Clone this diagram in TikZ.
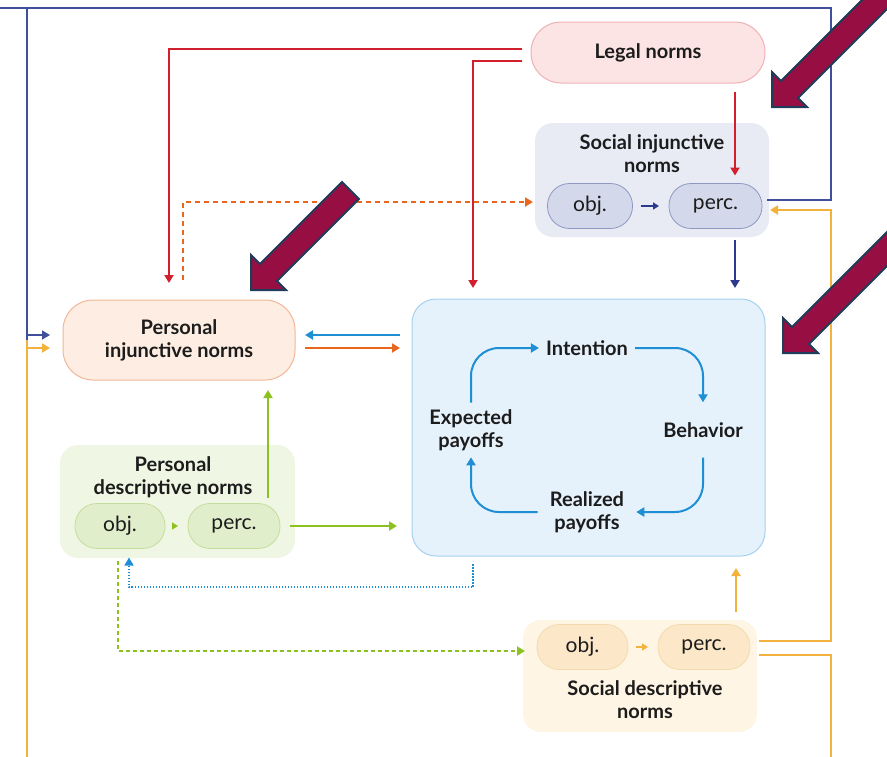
\documentclass[tikz,border=0pt]{standalone}
\usepackage{fontspec}
\setmainfont{Lato}
\usetikzlibrary{arrows.meta}

\definecolor{ink}{HTML}{1C1C1C}
\definecolor{legalfill}{HTML}{FCE3E4}
\definecolor{legaldraw}{HTML}{EFB2B6}
\definecolor{sinfill}{HTML}{E8EBF4}
\definecolor{sinpill}{HTML}{D3D9EB}
\definecolor{sinpilldraw}{HTML}{8E98C2}
\definecolor{pinfill}{HTML}{FDEDE3}
\definecolor{pindraw}{HTML}{F2B795}
\definecolor{pdnfill}{HTML}{F0F6E4}
\definecolor{pdnpill}{HTML}{E1EECB}
\definecolor{pdnpilldraw}{HTML}{C5DD9C}
\definecolor{cenfill}{HTML}{E5F1FB}
\definecolor{cendraw}{HTML}{A6D1EF}
\definecolor{sdnfill}{HTML}{FEF5E4}
\definecolor{sdnpill}{HTML}{FCE8C8}
\definecolor{sdnpilldraw}{HTML}{F4DBAE}
\definecolor{lawred}{HTML}{D11F2E}
\definecolor{navy}{HTML}{2B3A8C}
\definecolor{outerblue}{HTML}{3F4F9C}
\definecolor{flame}{HTML}{E8671C}
\definecolor{sky}{HTML}{1E8FD5}
\definecolor{leaf}{HTML}{8CC220}
\definecolor{amber}{HTML}{F3B23C}
\definecolor{pointerfill}{HTML}{970E43}
\definecolor{pointerdraw}{HTML}{1F3C5A}

\begin{document}
\begin{tikzpicture}[x=1pt, y=-1pt,
  head/.style={font=\fontsize{20}{23}\selectfont\bfseries, text=ink, align=center, inner sep=0pt},
  panel/.style={inner sep=0pt, outer sep=0pt},
  pill/.style={rounded corners=22pt, minimum height=45pt, inner sep=0pt, outer sep=0pt,
    font=\fontsize{21}{24}\selectfont, text=ink, line width=0.8pt},
  tip/.style={-{Triangle[length=8pt,width=9pt]}},
  conn/.style={line width=2pt, tip},
  tiny/.style={line width=2pt, -{Triangle[length=6pt,width=7pt]}, shorten <=8pt, shorten >=10pt},
  cyc/.style={conn, draw=sky, rounded corners=28pt},
  cyclabel/.style={head, inner xsep=7pt, inner ysep=6.5pt},
  pics/pointer/.style={code={
    \filldraw[fill=pointerfill, draw=pointerdraw, line width=2pt, line join=miter]
      (0,0) -- (0,-35) -- (9,-26) -- ++(#1,-#1) -- ++(17,17) -- (26,-9) -- (35,0) -- cycle;
  }}
]
\useasboundingbox (0,0) rectangle (887,756);
\clip (0,0) rectangle (887,756);

% ---- boxes ----
\node[panel, head, fill=legalfill, draw=legaldraw, line width=1pt, rounded corners=30pt,
      minimum width=234pt, minimum height=61pt] (legal) at (648,52.5) {Legal norms};

\node[panel, fill=sinfill, rounded corners=18pt, minimum width=234pt, minimum height=114pt] (sin) at (652,180) {};
\node[head] (sintitle) at (652,154) {Social injunctive\\norms};
\node[pill, fill=sinpill, draw=sinpilldraw, minimum width=85pt] (sinobj) at (590,206) {obj.};
\node[pill, fill=sinpill, draw=sinpilldraw, minimum width=93pt] (sinperc) at (715.5,206) {perc.};

\node[panel, head, fill=pinfill, draw=pindraw, line width=1pt, rounded corners=30pt,
      minimum width=232pt, minimum height=80pt] (pin) at (179,340) {Personal\\injunctive norms};

\node[panel, fill=pdnfill, rounded corners=18pt, minimum width=235pt, minimum height=113pt] (pdn) at (177.5,501.5) {};
\node[head] (pdntitle) at (173,477) {Personal\\descriptive norms};
\node[pill, fill=pdnpill, draw=pdnpilldraw, minimum width=90pt] (pdnobj) at (120,526) {obj.};
\node[pill, fill=pdnpill, draw=pdnpilldraw, minimum width=92pt] (pdnperc) at (234,526) {perc.};

\node[panel, fill=cenfill, draw=cendraw, line width=1pt, rounded corners=24pt,
      minimum width=353pt, minimum height=257pt] (central) at (588.5,427.5) {};

\node[panel, fill=sdnfill, rounded corners=18pt, minimum width=234pt, minimum height=112pt] (sdn) at (640,676) {};
\node[pill, fill=sdnpill, draw=sdnpilldraw, minimum width=91pt] (sdnobj) at (582.5,647) {obj.};
\node[pill, fill=sdnpill, draw=sdnpilldraw, minimum width=92pt] (sdnperc) at (704,647) {perc.};
\node[head] (sdntitle) at (645,700) {Social descriptive\\norms};

% ---- behaviour cycle ----
\node[cyclabel] (int) at (587,348) {Intention};
\node[cyclabel, inner ysep=20pt] (beh) at (703,430) {Behavior};
\node[cyclabel, inner xsep=12pt] (rea) at (587,512) {Realized\\payoffs};
\node[cyclabel] (exp) at (471,430) {Expected\\payoffs};

\draw[cyc] (int.east) -| (beh.north);
\draw[cyc] (beh.south) |- (rea.east);
\draw[cyc] (rea.west) -| (exp.south);
\draw[cyc] (exp.north) |- (int.west);

% ---- links inside the norm groups ----
\draw[tiny, navy] (sinobj) -- (sinperc);
\draw[tiny, leaf] (pdnobj) -- (pdnperc);
\draw[tiny, amber] (sdnobj) -- (sdnperc);

% ---- end points of the long connectors ----
\coordinate (legalA) at ([shift={(-9,-3.5)}]legal.west);
\coordinate (legalB) at ([shift={(-9,8.5)}]legal.west);
\coordinate (pinTop) at ([shift={(-10,-17)}]pin.north);
\coordinate (cenTopL) at ([shift={(-115.5,-11)}]central.north);
\coordinate (cenTopR) at ([shift={(146.5,-11)}]central.north);
\coordinate (cenBotR) at ([shift={(147.5,12)}]central.south);
\coordinate (cenBotL) at ([shift={(-115.5,8)}]central.south);
\coordinate (cenInA) at ([xshift=-12pt]central.west);
\coordinate (cenInB) at ([xshift=-15pt]central.west);
\coordinate (pinOutA) at ([shift={(10,-5)}]pin.east);
\coordinate (pinOutB) at ([shift={(10,8)}]pin.east);
\coordinate (pdnOut) at ([xshift=10pt]pdnperc.east);
\coordinate (pinInA) at ([shift={(-13,-5)}]pin.west);
\coordinate (pinInB) at ([shift={(-13,8)}]pin.west);
\coordinate (leftRail) at ([xshift=-36pt]pin.west);
\coordinate (topRail) at (0,8);
\coordinate (bottomRail) at (0,775);

% ---- legal norms ----
\draw[conn, lawred] (legalA) -| (pinTop);
\draw[conn, lawred] (legalB) -| (cenTopL);
\draw[conn, lawred] ([shift={(87,9)}]legal.south) -- ([shift={(19.5,-8)}]sinperc.north);

% ---- social injunctive norms ----
\draw[conn, navy] ([shift={(19.5,11.5)}]sinperc.south) -- (cenTopR);
\draw[line width=1.5pt, outerblue, tip]
  ([shift={(5,-6)}]sinperc.east) -- ++(64,0) |- (topRail) -| (leftRail) |- (pinInA);

% ---- personal injunctive norms ----
\draw[conn, flame, dash pattern=on 5pt off 4pt] ([shift={(4,-20)}]pin.north) |- ([shift={(-2,22)}]sin.west);
\draw[conn, sky] (pinOutA -| cenInA) -- (pinOutA);
\draw[conn, flame] (pinOutB) -- (pinOutB -| cenInA);

% ---- personal descriptive norms ----
\draw[conn, leaf] ([shift={(34,-6)}]pdnperc.north) -- ([shift={(89,10)}]pin.south);
\draw[conn, leaf] (pdnOut) -- (pdnOut -| cenInB);
\draw[sky, line width=1.4pt, dash pattern=on 1.5pt off 1.5pt, tip]
  (cenBotL) -- ++(0,23) -| ([shift={(9,9)}]pdnobj.south);
\draw[conn, leaf, dash pattern=on 4pt off 3pt] ([shift={(-2,12)}]pdnobj.south) |- ([shift={(2,-25)}]sdn.west);

% ---- social descriptive norms ----
\draw[conn, amber] ([shift={(96,-8)}]sdn.north) -- (cenBotR);
\draw[conn, amber] ([shift={(9,-6)}]sdnperc.east) -- ++(72,0) |- ([shift={(8,4)}]sinperc.east);
\draw[conn, amber] ([shift={(9,8)}]sdnperc.east) -- ++(72,0) |- (bottomRail) -| (leftRail) |- (pinInB);

% ---- highlight pointers ----
\pic at (251,290) {pointer=82};
\pic at (772,107) {pointer=120};
\pic at (783,353) {pointer=130};
\end{tikzpicture}
\end{document}
